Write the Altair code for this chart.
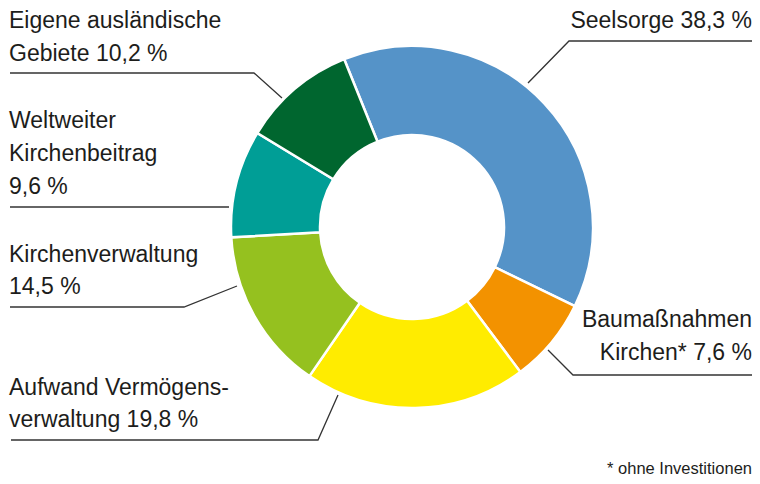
import math
import altair as alt
import pandas as pd

# ---- data ----
categories = ["Seelsorge", "Baumaßnahmen Kirchen*", "Aufwand Vermögensverwaltung",
              "Kirchenverwaltung", "Weltweiter Kirchenbeitrag", "Eigene ausländische Gebiete"]
shares = [38.3, 7.6, 19.8, 14.5, 9.6, 10.2]
colors = ["#5593C8", "#F39200", "#FFEC00", "#95C11F", "#009E96", "#00662F"]

label_lines = ["Eigene ausländische", "Gebiete 10,2 %",
               "Weltweiter", "Kirchenbeitrag", "9,6 %",
               "Kirchenverwaltung", "14,5 %",
               "Aufwand Vermögens-", "verwaltung 19,8 %",
               "Seelsorge 38,3 %",
               "Baumaßnahmen", "Kirchen* 7,6 %"]
footnote = "* ohne Investitionen"

# ---- layout (page pixels, chart origin is at page (8, 8)) ----
OFF = 8
W, H = 744, 468
RIGHT = 752  # right edge of drawable area in page pixels
label_x = [9] * 9 + [RIGHT] * 3
label_y = [28, 61, 128, 161, 194, 262, 294, 395, 427, 28, 327, 360]
label_align = ["left"] * 9 + ["right"] * 3

leaders = {
    "Eigene": [(10, 73), (254, 73), (282, 98)],
    "Weltweit": [(10, 207), (229, 207)],
    "Kirchenverw": [(10, 307), (184, 307), (237, 286)],
    "Aufwand": [(11, 440), (318, 440), (338, 395)],
    "Bau": [(548, 350), (573, 375), (RIGHT, 375)],
    "Seelsorge": [(528, 83), (569, 41), (RIGHT, 41)],
}

center_x, center_y = 412 - OFF, 227 - OFF
r_outer, r_inner = 181, 92
start = 2 * math.pi - math.radians(22.0)

pie_df = pd.DataFrame({"cat": categories, "share": shares, "idx": list(range(len(categories)))})

xs = alt.Scale(domain=[0, W], range=[0, W], nice=False, zero=False)
ys = alt.Scale(domain=[0, H], range=[0, H], nice=False, zero=False)

pie = alt.Chart(pie_df).mark_arc(
    outerRadius=r_outer, innerRadius=r_inner, stroke="white", strokeWidth=2.5
).encode(
    theta=alt.Theta("share:Q", stack=True, scale=alt.Scale(range=[start, start + 2 * math.pi])),
    color=alt.Color("cat:N", scale=alt.Scale(domain=categories, range=colors), legend=None),
    order=alt.Order("idx:Q"),
    x=alt.value(center_x),
    y=alt.value(center_y),
)

rows = []
for name, pts in leaders.items():
    for i, (px, py) in enumerate(pts):
        rows.append({"line": name, "i": i, "x": px - OFF, "y": py - OFF})
lines_df = pd.DataFrame(rows)

leader = alt.Chart(lines_df).mark_line(color="#333333", strokeWidth=1.3).encode(
    x=alt.X("x:Q", scale=xs, axis=None),
    y=alt.Y("y:Q", scale=ys, axis=None),
    detail="line:N",
    order="i:Q",
)

txt_df = pd.DataFrame({
    "t": label_lines,
    "x": [v - OFF for v in label_x],
    "y": [v - OFF for v in label_y],
    "a": label_align,
})

left_txt = alt.Chart(txt_df[txt_df.a == "left"]).mark_text(
    align="left", baseline="alphabetic", font="Liberation Sans", fontSize=23, color="#1d1d1b"
).encode(x=alt.X("x:Q", scale=xs, axis=None), y=alt.Y("y:Q", scale=ys, axis=None), text="t:N")

right_txt = alt.Chart(txt_df[txt_df.a == "right"]).mark_text(
    align="right", baseline="alphabetic", font="Liberation Sans", fontSize=23, color="#1d1d1b"
).encode(x=alt.X("x:Q", scale=xs, axis=None), y=alt.Y("y:Q", scale=ys, axis=None), text="t:N")

foot_df = pd.DataFrame({"t": [footnote], "x": [RIGHT - OFF], "y": [474 - OFF]})
foot = alt.Chart(foot_df).mark_text(
    align="right", baseline="alphabetic", font="Liberation Sans", fontSize=16.5, color="#1d1d1b"
).encode(x=alt.X("x:Q", scale=xs, axis=None), y=alt.Y("y:Q", scale=ys, axis=None), text="t:N")

chart = alt.layer(pie, leader, left_txt, right_txt, foot).properties(
    width=W, height=H, padding=0, autosize=alt.AutoSizeParams(type="none")
).configure_view(stroke=None).resolve_scale(theta="independent")

chart.save("out.html", embed_options={"renderer": "svg", "actions": False})
